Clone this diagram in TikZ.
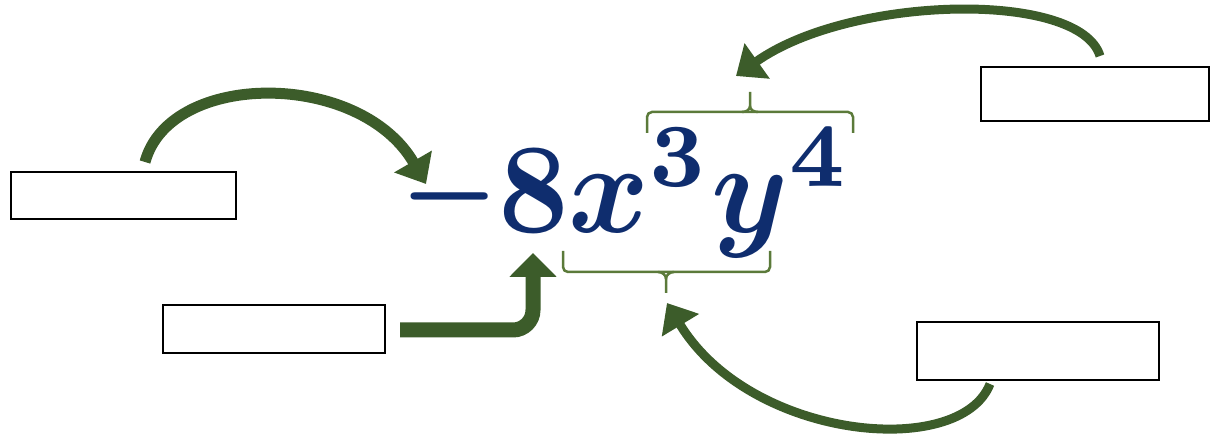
\documentclass[tikz,border=0pt]{standalone}
\usetikzlibrary{arrows.meta}
\definecolor{navy}{HTML}{0F2D6E}
\definecolor{arrgreen}{HTML}{3C5C2A}
\definecolor{bracegreen}{HTML}{5B7A3A}
\tikzset{
  blankbox/.style={draw=black, line width=2pt, fill=white, anchor=north west, inner sep=0pt},
  garrow/.style={draw=arrgreen, line width=11pt, -{Triangle[length=26pt,width=42pt]}},
  bracket/.style={draw=bracegreen, line width=2.5pt, rounded corners=5pt},
  bracetip/.style={draw=bracegreen, line width=2.5pt},
}
\begin{document}
\begin{tikzpicture}[x=1pt,y=-1pt]
\useasboundingbox (0,0) rectangle (1216,435);
% blank boxes
\node[blankbox, minimum width=225pt, minimum height=47pt] (b1) at (10,171) {};
\node[blankbox, minimum width=222pt, minimum height=48pt] (b2) at (162,304) {};
\node[blankbox, minimum width=228pt, minimum height=54pt] (b3) at (980,66) {};
\node[blankbox, minimum width=242pt, minimum height=58pt] (b4) at (916,321) {};
% expression
\node[anchor=base west, inner sep=0pt, text=navy] (expr) at (400,233)
  {\makebox[98pt][l]{\raisebox{6pt}{\scalebox{11}[12]{\boldmath$-$}}}\scalebox{12.3}[12.9]{\boldmath$8x^3y^4$}};
% brackets
\coordinate (tb) at (750,92);
\coordinate (bb) at (666,293);
\draw[bracket] (647,133) -- (647,112) -- (853,112) -- (853,133);
\draw[bracetip] (tb) -- (750,106) to[out=-90,in=0] (742,112);
\draw[bracetip] (750,106) to[out=-90,in=180] (758,112);
\draw[bracket] (563,251) -- (563,272) -- (770,272) -- (770,251);
\draw[bracetip] (bb) -- (666,279) to[out=90,in=0] (658,272);
\draw[bracetip] (666,279) to[out=90,in=180] (674,272);
% arrow coordinates
\coordinate (a1s) at (145,162);
\coordinate (a1e) at (426,184);
\coordinate (a2s) at (400,330);
\coordinate (a2e) at (533,253);
\coordinate (a3s) at (1100,56);
\coordinate (a3e) at (736,76);
\coordinate (a4s) at (990,384);
\coordinate (a4e) at (667,303);
% arrows
\draw[garrow] (a1s) .. controls (170,70) and (360,70) .. (a1e);
\draw[garrow, line width=15pt, rounded corners=20pt, -{Triangle[length=24pt,width=46pt]}] (a2s) -- (533,330) -- (a2e);
\draw[garrow, line width=9pt] (a3s) .. controls (1080,-10) and (850,-5) .. (a3e);
\draw[garrow, line width=9pt] (a4s) .. controls (960,460) and (750,440) .. (a4e);
\end{tikzpicture}
\end{document}
